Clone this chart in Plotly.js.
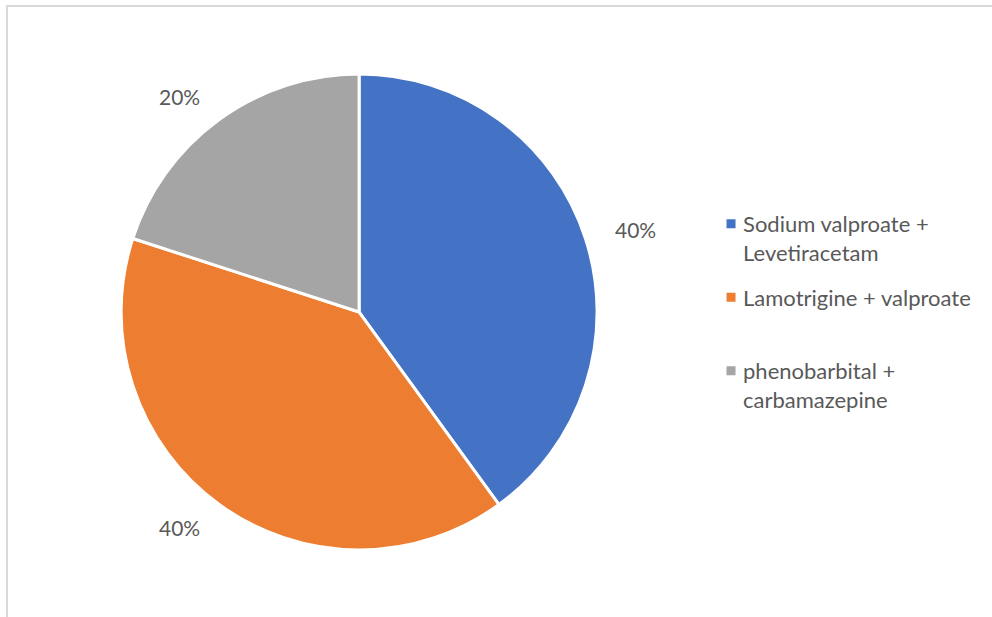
<!DOCTYPE html>
<html>
<head>
<meta charset="utf-8">
<script src="https://cdn.plot.ly/plotly-3.0.1.min.js"></script>
<style>
html,body{margin:0;padding:0;background:#fff;overflow:hidden;}
#chart{position:absolute;left:0;top:0;width:992px;height:617px;}
#frame{position:absolute;left:6px;top:5px;width:1000px;height:700px;border-left:2px solid #d9d9d9;border-top:2px solid #d9d9d9;pointer-events:none;}
</style>
</head>
<body>
<div id="chart"></div>
<div id="frame"></div>
<script>
var categories = ["Sodium valproate +<br>Levetiracetam<br> ", "Lamotrigine + valproate<br> <br> ", "phenobarbital +<br>carbamazepine<br> "];
var values = [40, 40, 20];
var colors = ["#4472C4", "#ED7D31", "#A5A5A5"];

var W = 992, H = 617;
var domX = [0.122, 0.602], domY = [0.1086, 0.880];
var FONT = "Lato, sans-serif";
var TXT = "#595959";

var trace = {
  type: "pie",
  labels: categories,
  values: values,
  sort: false,
  direction: "clockwise",
  rotation: 0,
  marker: {colors: colors, line: {color: "#ffffff", width: 3}},
  textposition: "none",
  hoverinfo: "label+percent",
  domain: {x: domX, y: domY}
};

// outside percentage labels, anchored beside the slice mid-angle points
var total = values.reduce(function(a, b){ return a + b; }, 0);
var cx = (domX[0] + domX[1]) / 2 * W;
var cy = (1 - (domY[0] + domY[1]) / 2) * H;
var R = Math.min((domX[1] - domX[0]) * W, (domY[1] - domY[0]) * H) / 2;
var labelR = R * 1.12;
var annotations = [];
var cum = 0;
values.forEach(function(v){
  var mid = (cum + v / 2) / total * 2 * Math.PI;
  cum += v;
  var s = Math.sin(mid);
  var px = cx + labelR * s;
  var py = cy - labelR * Math.cos(mid);
  annotations.push({
    xref: "paper", yref: "paper",
    x: px / W, y: 1 - py / H,
    xanchor: s >= 0 ? "left" : "right", yanchor: "middle",
    text: Math.round(v / total * 100) + "%",
    showarrow: false,
    font: {family: FONT, size: 21, color: TXT}
  });
});

var layout = {
  width: W, height: H,
  margin: {l: 0, r: 0, t: 0, b: 0},
  paper_bgcolor: "#ffffff",
  showlegend: true,
  annotations: annotations,
  legend: {
    x: 0.7087, y: 0.671, xanchor: "left", yanchor: "top",
    valign: "top",
    font: {family: FONT, size: 22, color: TXT},
    itemwidth: 30, tracegroupgap: 0
  }
};

Plotly.newPlot("chart", [trace], layout, {displayModeBar: false, staticPlot: true}).then(function(gd){
  var items = gd.querySelectorAll(".legend .traces");
  var y0 = null;
  items.forEach(function(el, i){
    var t = el.getAttribute("transform") || "";
    var m = /translate\(([^,]+),\s*([^)]+)\)/.exec(t);
    if (!m) return;
    var x = parseFloat(m[1]), y = parseFloat(m[2]);
    if (y0 === null) y0 = y;
    el.setAttribute("transform", "translate(" + x + "," + (y0 + i * 73.5) + ")");
  });
  gd.querySelectorAll(".legend .legendpoints").forEach(function(el){
    el.setAttribute("transform", "translate(8,0)");
  });
});
</script>
</body>
</html>
